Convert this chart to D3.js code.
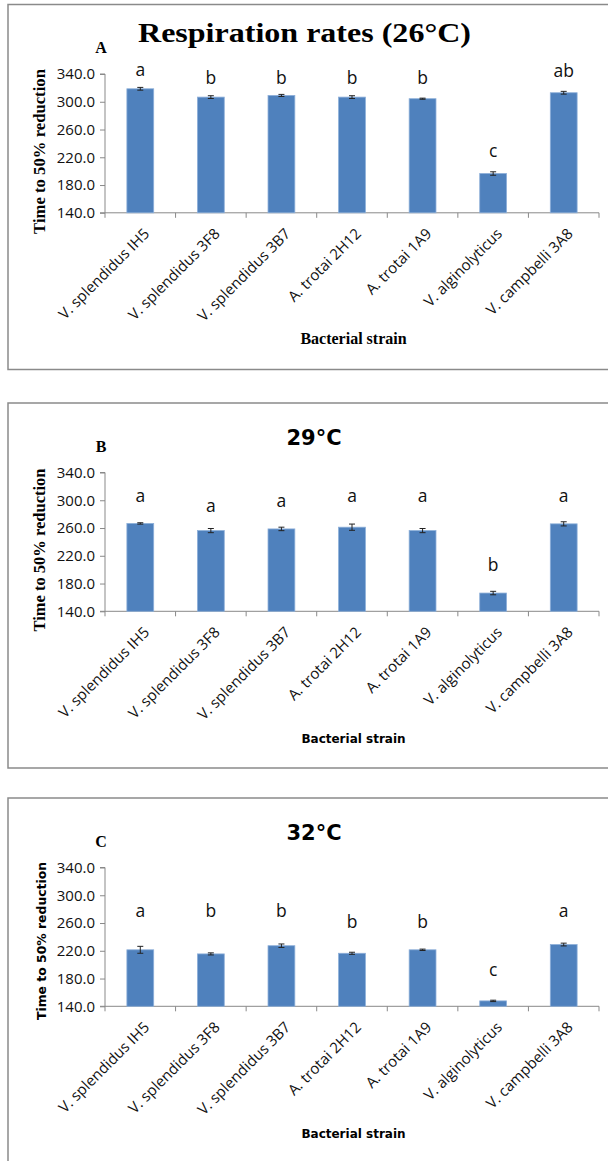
<!DOCTYPE html>
<html>
<head>
<meta charset="utf-8">
<script src="https://cdn.jsdelivr.net/npm/d3@7"></script>
<style>
html,body{margin:0;padding:0;background:#fff;}
svg{display:block;}
</style>
</head>
<body>
<svg id="chart" width="608" height="1161"></svg>
<script>
const categories = ["V. splendidus IH5","V. splendidus 3F8","V. splendidus 3B7","A. trotai 2H12","A. trotai 1A9","V. alginolyticus","V. campbelli 3A8"];
const yTicks = [140,180,220,260,300,340];

const valuesA = [318.7,306.7,309.1,306.7,304.4,196.6,313.0];
const errorsA = [2.0,2.0,1.5,2.0,0.8,2.5,2.0];
const lettersA = ["a","b","b","b","b","c","ab"];
const letterYA = [337.5,326,326,326,326,220.5,336];

const valuesB = [266.6,256.3,258.7,261.2,256.3,166.3,266.0];
const errorsB = [1.0,3.0,2.5,4.5,3.0,2.5,3.0];
const lettersB = ["a","a","a","a","a","b","a"];
const letterYB = [298,283.5,290,298,298,198,298];

const valuesC = [221.4,215.5,227.3,216.4,221.4,147.8,229.0];
const errorsC = [5.0,1.5,2.5,1.5,1.0,1.0,2.0];
const lettersC = ["a","b","b","b","b","c","a"];
const letterYC = [269,269,269,253,253,183,269];

const SERIF = "'Liberation Serif', 'Times New Roman', serif";
const SANS = "'Open Sans', sans-serif";
const SANSB = "'DejaVu Sans', sans-serif";

const panels = [
  {top:4.5, title:"Respiration rates (26°C)", titleFont:SERIF, titleSize:27, titleLen:333, titleX:304.5, titleDy:37.3, tag:"A",
   labelFont:SERIF, labelSize:16, ylabelFont:SERIF, ylabelSize:16.7, ylabelDy:147, ylabelX:45,
   values:valuesA, errors:errorsA, letters:lettersA, letterY:letterYA},
  {top:403, title:"29°C", titleFont:SANSB, titleSize:21, titleLen:null, titleX:314, titleDy:42, tag:"B",
   labelFont:SANSB, labelSize:12, ylabelFont:SERIF, ylabelSize:16.5, ylabelDy:147, ylabelX:45,
   values:valuesB, errors:errorsB, letters:lettersB, letterY:letterYB},
  {top:798, title:"32°C", titleFont:SANSB, titleSize:21, titleLen:null, titleX:314, titleDy:42, tag:"C",
   labelFont:SANSB, labelSize:12, ylabelFont:SANSB, ylabelSize:12.4, ylabelDy:143, ylabelX:46,
   values:valuesC, errors:errorsC, letters:lettersC, letterY:letterYC}
];

const svg = d3.select("#chart");
const axisColor = "#898989";
const left = 105, right = 599;

panels.forEach(p => {
  const g = svg.append("g");
  // frame
  g.append("rect").attr("x",8).attr("y",p.top).attr("width",700).attr("height",365)
    .attr("fill","none").attr("stroke","#8a8a8a").attr("stroke-width",1.5);

  const y = d3.scaleLinear().domain([140,340]).range([p.top+208.3, p.top+69.5]);
  const x = d3.scaleBand().domain(categories).range([left,right]).paddingInner(0.62).paddingOuter(0.31);
  const xTick = d3.scalePoint().domain(d3.range(categories.length+1)).range([left,right]);

  // title
  const t = g.append("text").attr("x",p.titleX).attr("y",p.top+p.titleDy).attr("text-anchor","middle")
    .attr("font-family",p.titleFont).attr("font-weight","bold").attr("font-size",p.titleSize)
    .text(p.title);
  if (p.titleLen) t.attr("textLength",p.titleLen).attr("lengthAdjust","spacingAndGlyphs");
  g.append("text").attr("x",101).attr("y",p.top+48.8).attr("text-anchor","middle")
    .attr("font-family",SERIF).attr("font-weight","bold").attr("font-size",16)
    .text(p.tag);

  // y axis
  const yAxis = d3.axisLeft(y).tickValues(yTicks).tickFormat(d3.format(".1f")).tickSize(5).tickPadding(5);
  const ya = g.append("g").attr("transform",`translate(${left},0)`).call(yAxis);
  ya.select(".domain").attr("stroke",axisColor).attr("d",`M-5,${y(140)}H0V${y(340)}H-5`);
  ya.selectAll(".tick line").attr("stroke",axisColor);
  ya.selectAll(".tick text").attr("font-family",SANS).attr("font-size",15).attr("fill","#111");

  // x axis line and ticks
  g.append("line").attr("x1",left).attr("x2",right).attr("y1",y(140)).attr("y2",y(140)).attr("stroke",axisColor);
  g.selectAll(".xt").data(d3.range(categories.length+1)).enter().append("line")
    .attr("x1",d=>xTick(d)).attr("x2",d=>xTick(d)).attr("y1",y(140)).attr("y2",y(140)+5).attr("stroke",axisColor);

  // x labels
  g.selectAll(".xl").data(categories).enter().append("text")
    .attr("text-anchor","end")
    .attr("transform",d=>`translate(${x(d)+x.bandwidth()/2+10},${y(140)+22}) rotate(-45)`)
    .attr("font-family",SANS).attr("font-size",15).attr("fill","#111")
    .text(d=>d);

  // bars
  g.selectAll(".bar").data(p.values).enter().append("rect")
    .attr("x",(d,i)=>x(categories[i])).attr("width",x.bandwidth())
    .attr("y",d=>y(d)).attr("height",d=>y(140)-y(d))
    .attr("fill","#4F81BD").attr("stroke","#8DAFD9").attr("stroke-width",0.8);

  // error bars
  p.values.forEach((v,i)=>{
    const cx = x(categories[i])+x.bandwidth()/2, e = p.errors[i];
    const eg = g.append("g").attr("stroke","#222").attr("stroke-width",1);
    eg.append("line").attr("x1",cx).attr("x2",cx).attr("y1",y(v-e)).attr("y2",y(v+e));
    eg.append("line").attr("x1",cx-3).attr("x2",cx+3).attr("y1",y(v-e)).attr("y2",y(v-e));
    eg.append("line").attr("x1",cx-3).attr("x2",cx+3).attr("y1",y(v+e)).attr("y2",y(v+e));
  });

  // letters
  g.selectAll(".let").data(p.letters).enter().append("text")
    .attr("x",(d,i)=>x(categories[i])+x.bandwidth()/2).attr("y",(d,i)=>y(p.letterY[i]))
    .attr("text-anchor","middle").attr("font-family",SANS).attr("font-size",17.5).attr("fill","#111")
    .text(d=>d);

  // axis titles
  g.append("text").attr("x",353.5).attr("y",p.top+339.8).attr("text-anchor","middle")
    .attr("font-family",p.labelFont).attr("font-weight","bold").attr("font-size",p.labelSize)
    .text("Bacterial strain");
  g.append("text").attr("transform",`translate(${p.ylabelX},${p.top+p.ylabelDy}) rotate(-90)`).attr("text-anchor","middle")
    .attr("font-family",p.ylabelFont).attr("font-weight","bold").attr("font-size",p.ylabelSize)
    .text("Time to 50% reduction");
});
</script>
</body>
</html>
